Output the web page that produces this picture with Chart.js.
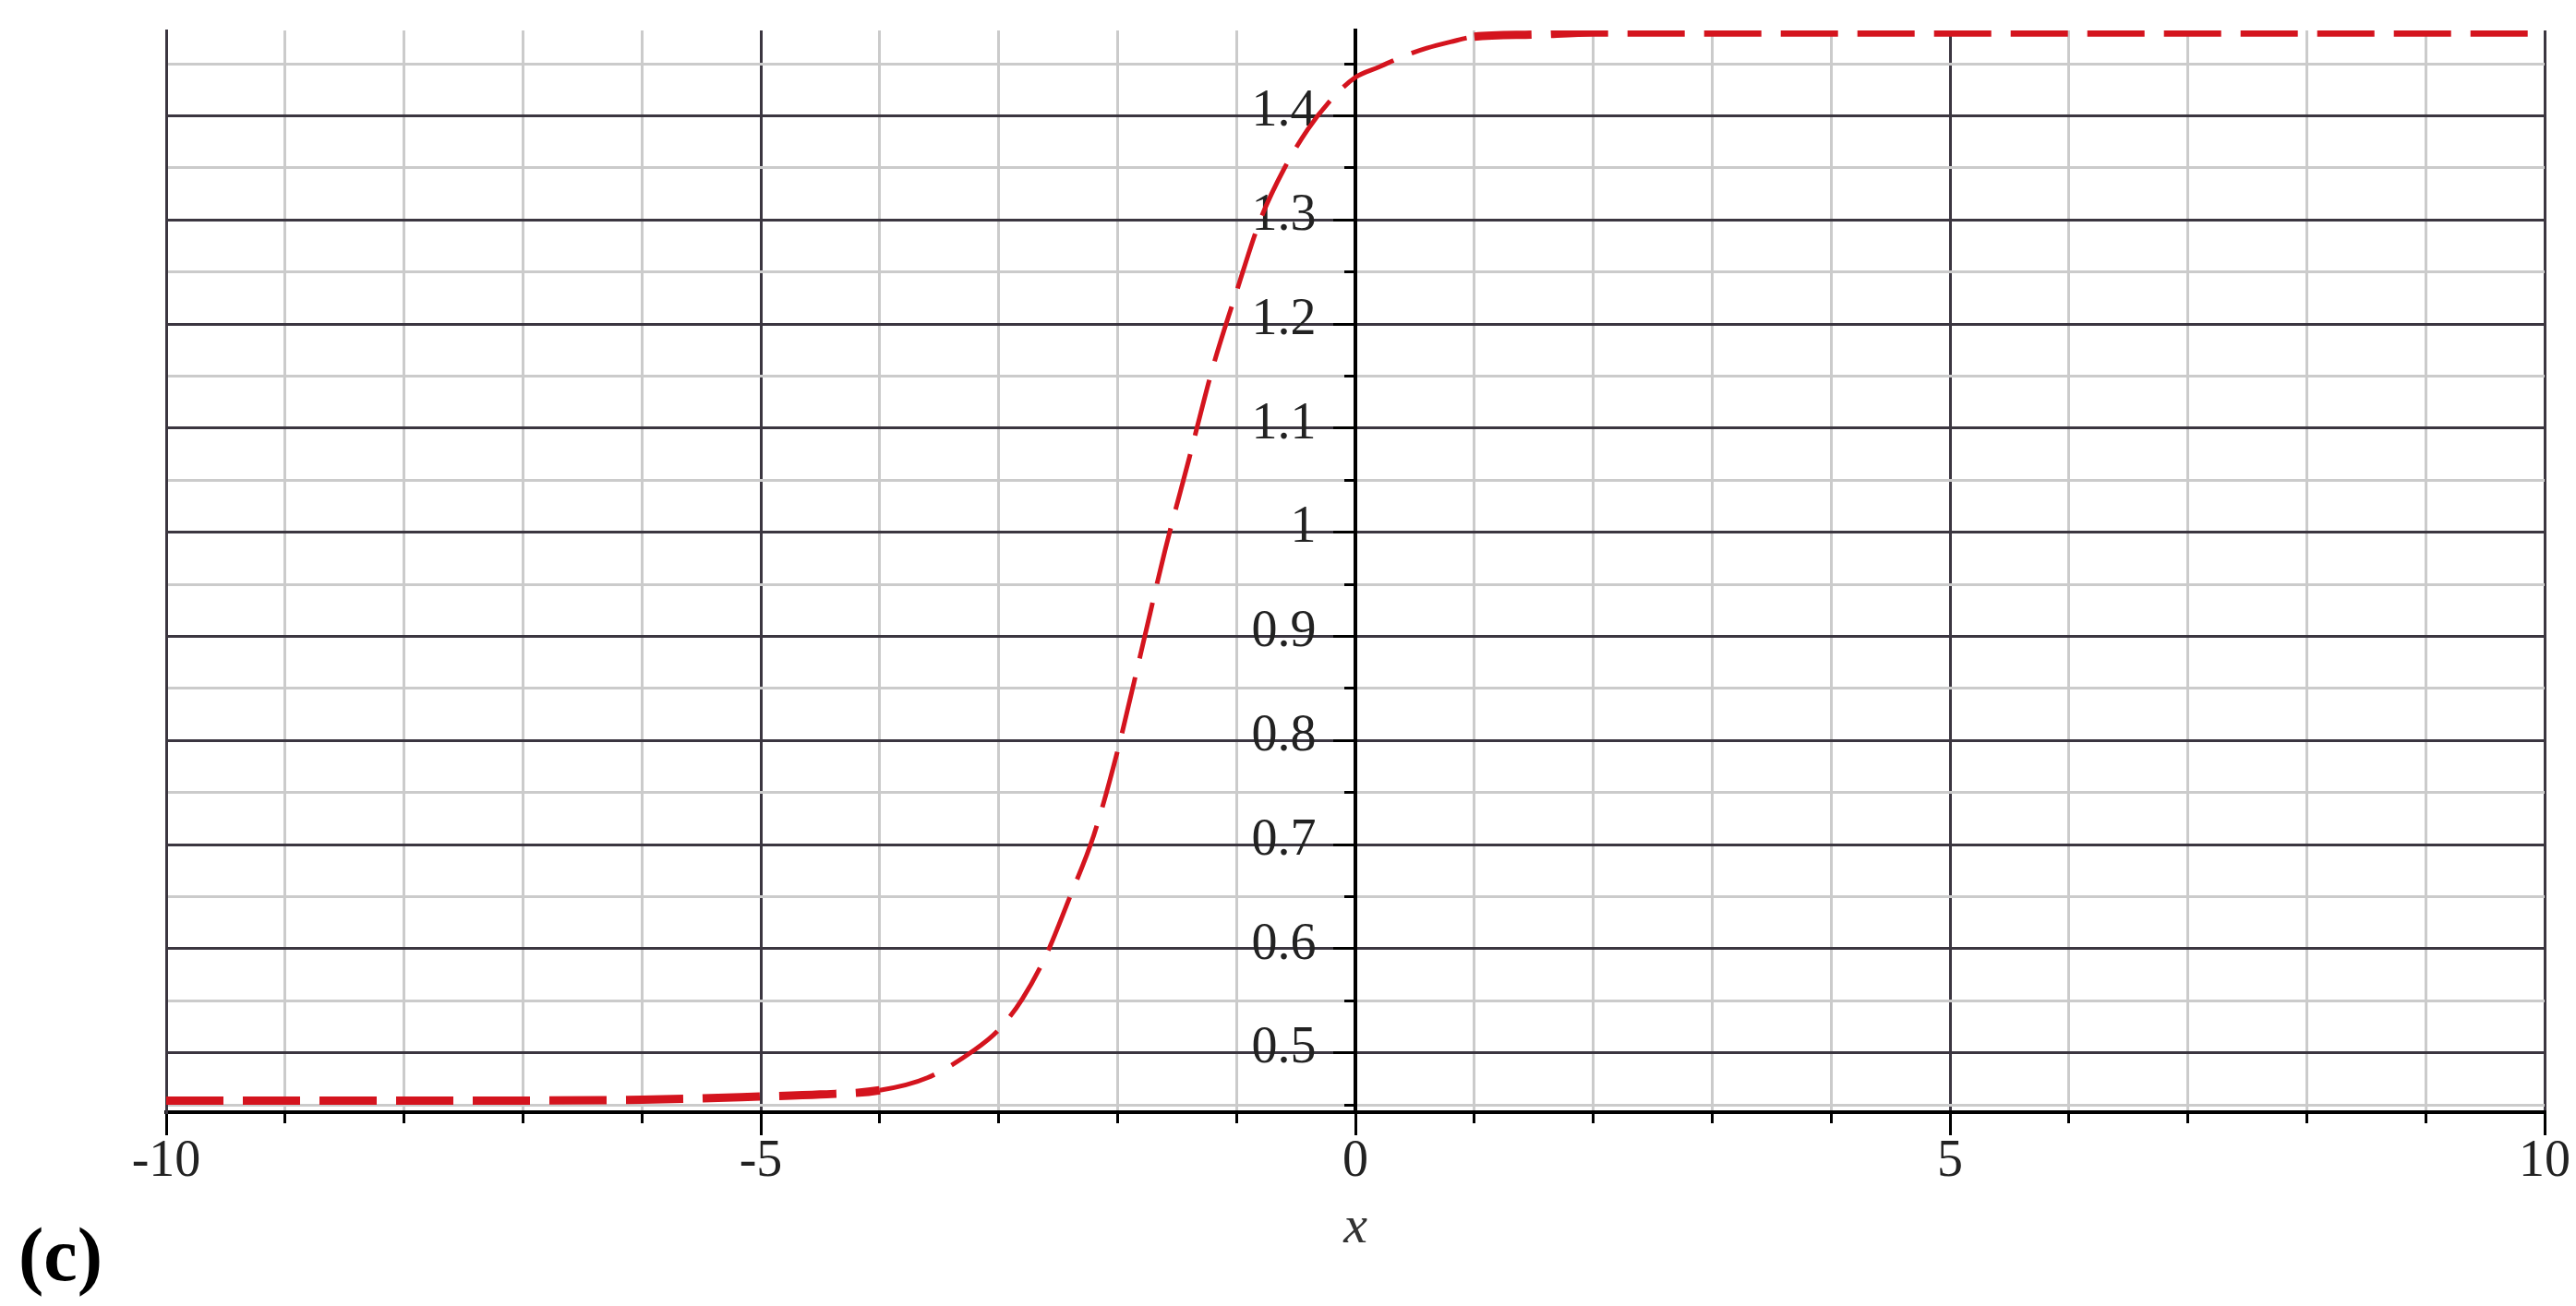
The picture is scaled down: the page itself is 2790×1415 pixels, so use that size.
<!DOCTYPE html>
<html>
<head>
<meta charset="utf-8">
<script src="https://cdn.jsdelivr.net/npm/chart.js@4.4.1/dist/chart.umd.min.js"></script>
<style>
    html, body { margin: 0; padding: 0; background: #fff; }
    #wrap { width: 2790px; height: 1415px; }
</style>
</head>
<body>
<div id="wrap"><canvas id="chart" width="2790" height="1415"></canvas></div>
<script>
// curve
var curveX = [-10, -8, -6, -5, -4.5, -4, -3.6, -3.2, -3.0, -2.8, -2.6, -2.4, -2.2, -2.0, -1.8, -1.6, -1.4, -1.2, -1.0, -0.8, -0.6, -0.4, -0.2, 0, 0.2, 0.4, 0.6, 0.8, 1.0, 1.5, 2, 4, 6, 8, 10]
var curveY = [0.454, 0.454, 0.455, 0.458, 0.460, 0.464, 0.476, 0.503, 0.522, 0.552, 0.594, 0.650, 0.709, 0.790, 0.886, 0.983, 1.070, 1.158, 1.231, 1.300, 1.349, 1.387, 1.416, 1.437, 1.447, 1.457, 1.465, 1.471, 1.476, 1.478, 1.480, 1.480, 1.480, 1.480, 1.480]

// x axis
var xTicks = [-10, -9, -8, -7, -6, -5, -4, -3, -2, -1, 0, 1, 2, 3, 4, 5, 6, 7, 8, 9, 10]
var xLabelValues = [-10, -5, 0, 5, 10]
var xLabels = ['-10', '-5', '0', '5', '10']

// y axis
var yTicks = [0.45, 0.5, 0.55, 0.6, 0.65, 0.7, 0.75, 0.8, 0.85, 0.9, 0.95, 1, 1.05, 1.1, 1.15, 1.2, 1.25, 1.3, 1.35, 1.4, 1.45]
var yLabelValues = [0.5, 0.6, 0.7, 0.8, 0.9, 1, 1.1, 1.2, 1.3, 1.4]
var yLabels = ['0.5', '0.6', '0.7', '0.8', '0.9', '1', '1.1', '1.2', '1.3', '1.4']

var xMin = -10, xMax = 10
var yMin = 0.443, yMax = 1.482

// the y labels sit a little left of the axis through x = 0
var yLabelAt = -0.33

var darkGrid = '#3b3640'
var lightGrid = '#cbcbcb'
var curveRed = '#d4141e'
var tickFont = { family: 'Liberation Serif', size: 56 }

var near = function (a, b) { return Math.abs(a - b) < 1e-6 }
var isMajor = function (values, v) { return values.some(function (w) { return near(w, v) }) }
var labelFor = function (values, labels, v) {
    for (var i = 0; i < values.length; i++) {
        if (near(values[i], v)) return labels[i]
    }
    return ''
}
var noPadding = function (scale) {
    scale.paddingLeft = 0
    scale.paddingRight = 0
    scale.paddingTop = 0
    scale.paddingBottom = 0
}
var setTicks = function (list) {
    return function (scale) {
        scale.ticks = list.map(function (v) { return { value: v } })
    }
}

var points = curveX.map(function (x, i) { return { x: x, y: curveY[i] } })

new Chart(document.getElementById('chart').getContext('2d'), {
    type: 'line',
    data: {
        datasets: [{
            data: points,
            xAxisID: 'x',
            yAxisID: 'y',
            borderColor: curveRed,
            borderWidth: 5,
            borderDash: [62, 21],
            pointRadius: 0,
            cubicInterpolationMode: 'monotone',
            segment: {
                // flat parts of the curve are drawn thicker in the original
                borderWidth: function (ctx) {
                    var dx = ctx.p1.parsed.x - ctx.p0.parsed.x
                    var dy = ctx.p1.parsed.y - ctx.p0.parsed.y
                    return Math.abs(dy / dx) < 0.012 ? 9 : 5
                }
            }
        }]
    },
    options: {
        responsive: false,
        animation: false,
        devicePixelRatio: 1,
        layout: {
            padding: { left: 20, right: 34, top: 33, bottom: 0 }
        },
        plugins: {
            legend: { display: false },
            tooltip: { enabled: false },
            title: {
                display: true,
                text: '(c)',
                position: 'bottom',
                align: 'start',
                color: '#000',
                font: { family: 'Liberation Serif', size: 82, weight: 'bold', lineHeight: 1 },
                padding: { top: 5, bottom: 8 }
            }
        },
        scales: {
            x: {
                type: 'linear',
                position: 'bottom',
                min: xMin,
                max: xMax,
                afterBuildTicks: setTicks(xTicks),
                afterFit: function (scale) { scale.height = 115; noPadding(scale) },
                grid: {
                    color: function (ctx) { return isMajor(xLabelValues, ctx.tick.value) ? darkGrid : lightGrid },
                    lineWidth: 3,
                    tickLength: 25,
                    tickColor: '#000',
                    tickWidth: 3,
                    tickBorderDash: function (ctx) { return isMajor(xLabelValues, ctx.tick.value) ? [] : [10, 60] }
                },
                border: { color: '#000', width: 4 },
                ticks: {
                    autoSkip: false,
                    maxRotation: 0,
                    padding: -4,
                    color: '#222',
                    font: tickFont,
                    callback: function (v) { return labelFor(xLabelValues, xLabels, v) }
                },
                title: {
                    display: true,
                    text: 'x',
                    color: '#333',
                    font: { family: 'Liberation Serif', size: 58, style: 'italic' },
                    padding: { top: 0, bottom: -46 }
                }
            },
            y: {
                type: 'linear',
                position: 'left',
                min: yMin,
                max: yMax,
                afterBuildTicks: setTicks(yTicks),
                afterFit: function (scale) { scale.width = 160; noPadding(scale) },
                grid: {
                    color: function (ctx) { return isMajor(yLabelValues, ctx.tick.value) ? darkGrid : lightGrid },
                    lineWidth: 3,
                    drawTicks: false
                },
                border: { color: darkGrid, width: 3 },
                ticks: { display: false }
            },
            // axis line through x = 0 with its tick marks
            y0: {
                type: 'linear',
                position: { x: 0 },
                min: yMin,
                max: yMax,
                afterBuildTicks: setTicks(yTicks),
                afterFit: function (scale) { scale.width = 0; noPadding(scale) },
                grid: {
                    drawOnChartArea: false,
                    drawTicks: true,
                    tickLength: 22,
                    tickColor: '#000',
                    tickWidth: 3,
                    tickBorderDash: function (ctx) { return isMajor(yLabelValues, ctx.tick.value) ? [] : [10, 60] }
                },
                border: { color: '#000', width: 4 },
                ticks: { display: false }
            },
            // tick labels for that axis
            yl: {
                type: 'linear',
                position: { x: yLabelAt },
                min: yMin,
                max: yMax,
                afterBuildTicks: setTicks(yTicks),
                afterFit: function (scale) { scale.width = 0; noPadding(scale) },
                grid: { display: false },
                border: { display: false },
                ticks: {
                    autoSkip: false,
                    labelOffset: -4,
                    color: '#222',
                    font: tickFont,
                    callback: function (v) { return labelFor(yLabelValues, yLabels, v) }
                }
            }
        }
    }
})
</script>
</body>
</html>
